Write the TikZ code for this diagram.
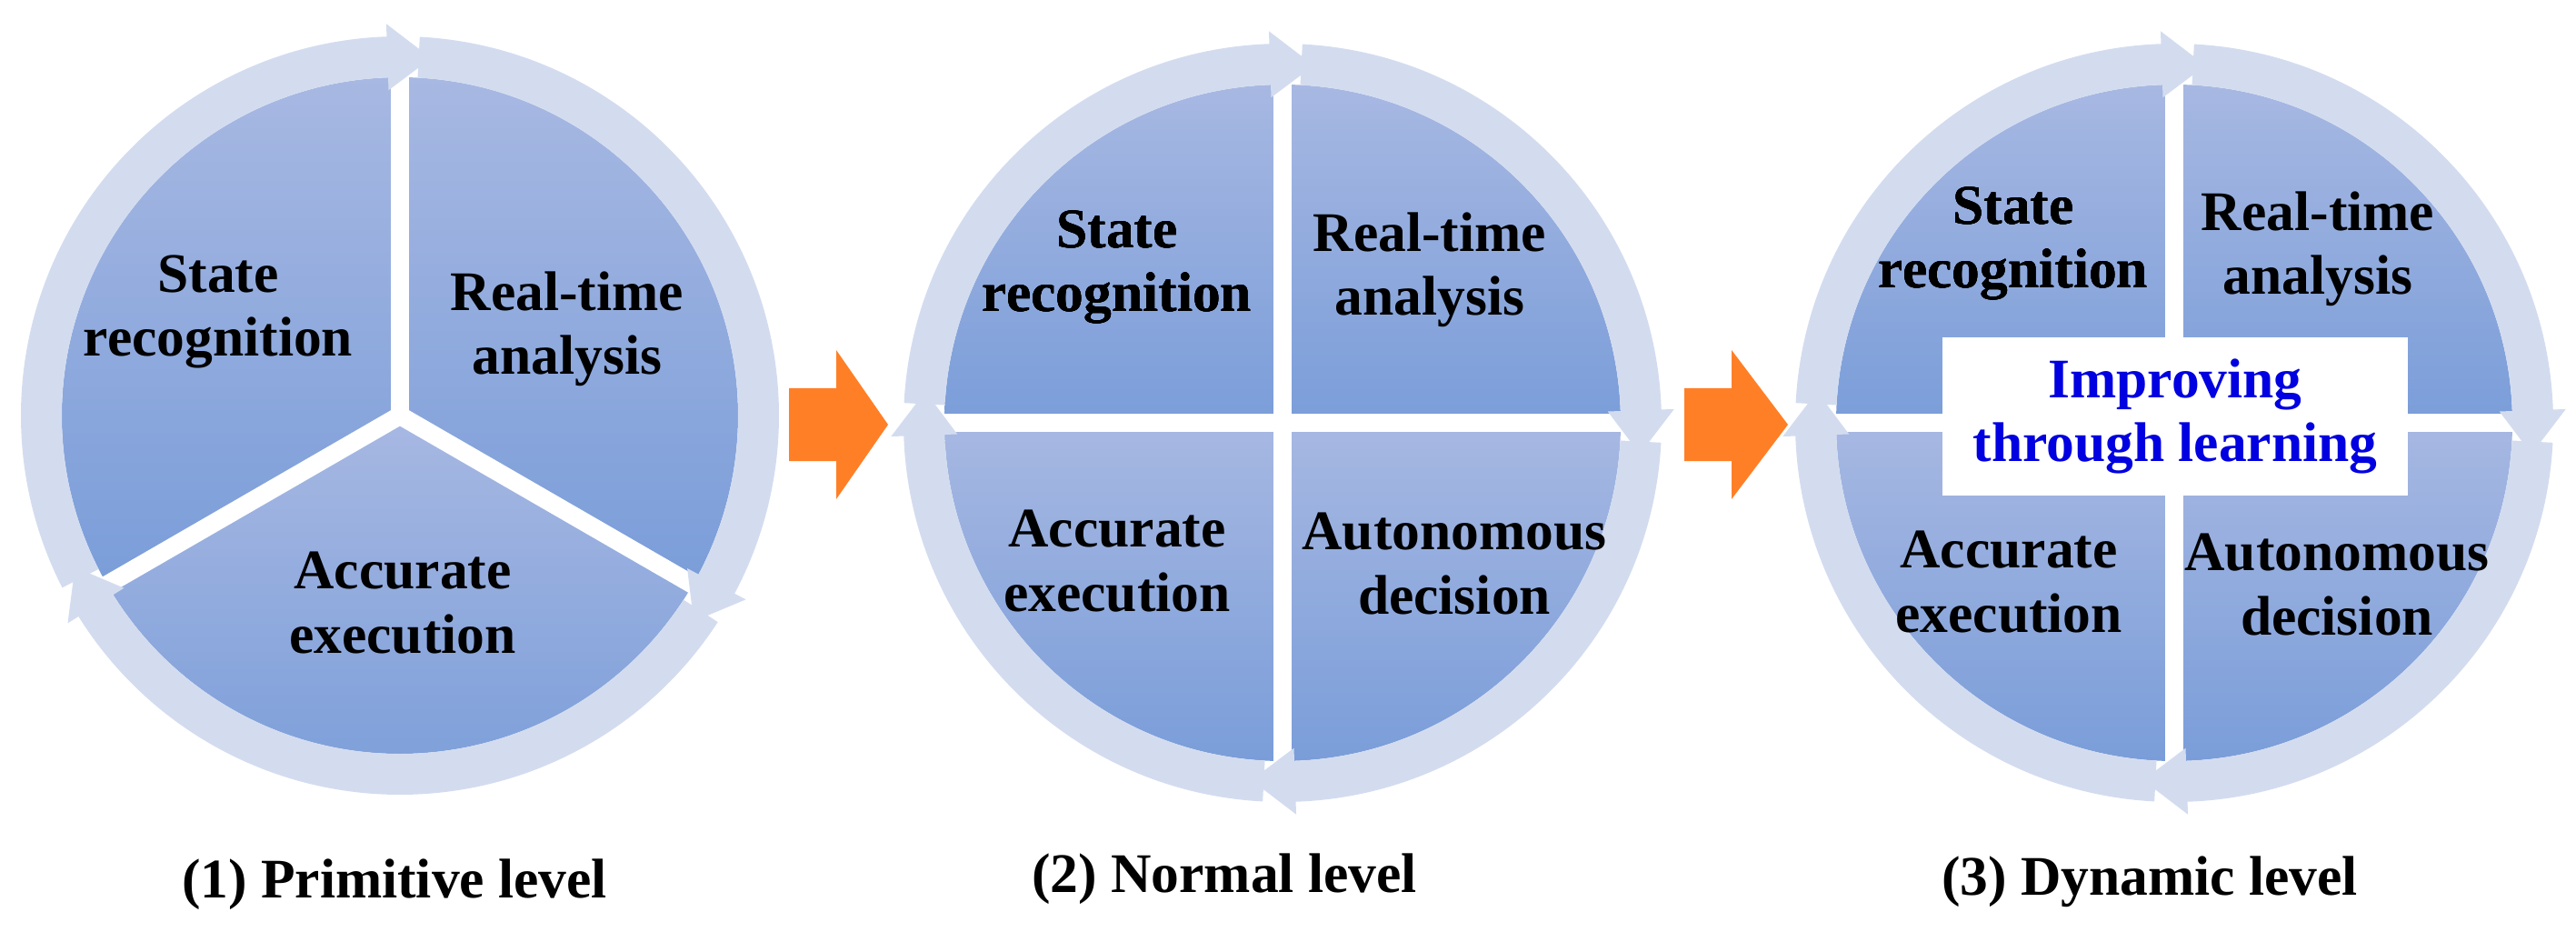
\documentclass[tikz,border=0pt]{standalone}
\usepackage{fontspec}
\setmainfont{Liberation Serif}
\definecolor{ringcol}{HTML}{D3DCEF}
\definecolor{disctop}{HTML}{A7B8E2}
\definecolor{discbot}{HTML}{7A9DD9}
\definecolor{orangecol}{HTML}{FF7F27}
\definecolor{txtblue}{HTML}{0000E0}
\tikzset{
  lbl/.style={font=\bfseries\fontsize{17.5}{20}\selectfont, align=center, text=black},
  captxt/.style={font=\bfseries\fontsize{17.5}{20}\selectfont},
  sector/.style={top color=disctop, bottom color=discbot, draw=none},
  gap/.style={white, line width=0.2cm},
}
\def\ra{3.72}
\def\rb{4.17}
\newcommand\ringseg[4]{%
  \begin{scope}[shift={(#1,#2)}]
  \fill[ringcol] (#3:\rb) arc[start angle=#3, end angle=#4, radius=\rb]
    -- ({#4}:{\rb+0.14}) -- ({#4-7}:{(\ra+\rb)/2}) -- ({#4}:{\ra-0.14})
    -- ({#4}:\ra) arc[start angle=#4, end angle=#3, radius=\ra] -- cycle;
  \end{scope}}
\newcommand\quadsect[4]{%
  \begin{scope}[shift={(#1,#2)}]
  \path[sector] (0,0) -- (#3:\ra) arc[start angle=#3, end angle=#4, radius=\ra] -- cycle;
  \end{scope}}
\begin{document}
\begin{tikzpicture}
\useasboundingbox (0,0) rectangle (28.34,10.24);
% ---------- circle 1
\coordinate (c1) at (4.40,5.67);
\quadsect{4.40}{5.67}{90}{-30}
\quadsect{4.40}{5.67}{-30}{-150}
\quadsect{4.40}{5.67}{-150}{-270}
\foreach \a in {90,-30,-150} \draw[gap] (c1) -- ++(\a:{\rb+0.1});
\ringseg{4.40}{5.67}{87}{-28}
\ringseg{4.40}{5.67}{-33}{-148}
\ringseg{4.40}{5.67}{-153}{-268}
\node[lbl] (s1) at (2.40,6.81) {State\\recognition};
\node[lbl] (r1) at (6.24,6.62) {Real-time\\analysis};
\node[lbl] (a1) at (4.43,3.61) {Accurate\\execution};
\node[captxt] (cap1) at (4.34,0.51) {(1) Primitive level};
% ---------- circle 2
\coordinate (c2) at (14.11,5.59);
\foreach \a in {0,90,180,270} \quadsect{14.11}{5.59}{\a}{\a+90}
\foreach \a in {0,90,180,270} \draw[gap] (c2) -- ++(\a:{\rb+0.1});
\foreach \a in {90,0,-90,-180} \ringseg{14.11}{5.59}{\a-3}{\a-88}
\node[lbl] (s2) at (12.29,7.30) {State\\recognition};
\node[lbl] (r2) at (15.73,7.27) {Real-time\\analysis};
\node[lbl] (a2) at (12.29,4.07) {Accurate\\execution};
\node[lbl] (d2) at (16.00,4.04) {Autonomous\\decision};
\node[captxt] (cap2) at (13.47,0.57) {(2) Normal level};
% ---------- circle 3
\coordinate (c3) at (23.92,5.59);
\foreach \a in {0,90,180,270} \quadsect{23.92}{5.59}{\a}{\a+90}
\foreach \a in {0,90,180,270} \draw[gap] (c3) -- ++(\a:{\rb+0.1});
\foreach \a in {90,0,-90,-180} \ringseg{23.92}{5.59}{\a-3}{\a-88}
\node[lbl] (s3) at (22.15,7.56) {State\\recognition};
\node[lbl] (r3) at (25.50,7.50) {Real-time\\analysis};
\node[lbl] (a3) at (22.10,3.84) {Accurate\\execution};
\node[lbl] (d3) at (25.71,3.81) {Autonomous\\decision};
\node[lbl, fill=white, text=txtblue, minimum width=5.12cm, minimum height=1.74cm, inner sep=0pt] (imp) at (23.93,5.66) {Improving\\through learning};
\node[captxt] (cap3) at (23.65,0.54) {(3) Dynamic level};
% ---------- orange arrows
\fill[orangecol] (8.68,5.17) -- (9.20,5.17) -- (9.20,4.75) -- (9.77,5.57) -- (9.20,6.39) -- (9.20,5.97) -- (8.68,5.97) -- cycle;
\fill[orangecol] (18.53,5.17) -- (19.05,5.17) -- (19.05,4.75) -- (19.67,5.57) -- (19.05,6.39) -- (19.05,5.97) -- (18.53,5.97) -- cycle;
\end{tikzpicture}
\end{document}
